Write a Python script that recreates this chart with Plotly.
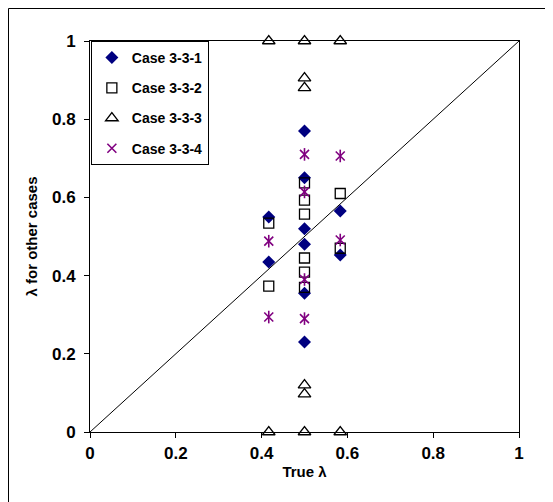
import plotly.graph_objects as go

# ---- data ----
case1_x = [0.4167, 0.4167, 0.5, 0.5, 0.5, 0.5, 0.5, 0.5, 0.5833, 0.5833]
case1_y = [0.550, 0.435, 0.770, 0.650, 0.520, 0.480, 0.355, 0.230, 0.565, 0.453]

case2_x = [0.4167, 0.4167, 0.5, 0.5, 0.5, 0.5, 0.5, 0.5, 0.5833, 0.5833]
case2_y = [0.534, 0.373, 0.637, 0.593, 0.557, 0.445, 0.409, 0.370, 0.610, 0.470]

case3_x = [0.4167, 0.4167, 0.5, 0.5, 0.5, 0.5, 0.5, 0.5, 0.5833, 0.5833]
case3_y = [1.000, 0.000, 1.000, 0.905, 0.880, 0.120, 0.097, 0.000, 1.000, 0.000]

case4_x = [0.4167, 0.4167, 0.5, 0.5, 0.5, 0.5, 0.5833, 0.5833]
case4_y = [0.488, 0.294, 0.710, 0.614, 0.390, 0.290, 0.706, 0.491]

diag_x = [0, 1]
diag_y = [0, 1]

tick_vals = [0, 0.2, 0.4, 0.6, 0.8, 1]
tick_text = ["0", "0.2", "0.4", "0.6", "0.8", "1"]

names = ["Case 3-3-1", "Case 3-3-2", "Case 3-3-3", "Case 3-3-4"]

FONT = "Arial, 'Liberation Sans', sans-serif"
NAVY = "#000080"
PURPLE = "#800080"

# plot-area geometry (figure pixels)
L, T, PW, PH = 82, 33, 429, 391
W, H = 553, 502

fig = go.Figure()

fig.add_trace(go.Scatter(x=diag_x, y=diag_y, mode="lines",
                         line=dict(color="black", width=1),
                         showlegend=False, hoverinfo="skip"))

fig.add_trace(go.Scatter(x=case1_x, y=case1_y, mode="markers", name=names[0],
                         legendgroup="g1",
                         marker=dict(symbol="diamond", size=10, color=NAVY,
                                     line=dict(width=0))))
fig.add_trace(go.Scatter(x=case2_x, y=case2_y, mode="markers", name=names[1],
                         legendgroup="g2",
                         marker=dict(symbol="square-open", size=10, color="black",
                                     line=dict(width=1.3, color="black"))))
fig.add_trace(go.Scatter(x=case3_x, y=case3_y, mode="markers", name=names[2],
                         legendgroup="g3", cliponaxis=False,
                         marker=dict(symbol="triangle-up-open", size=11, color="black",
                                     line=dict(width=1.3, color="black"))))
fig.add_trace(go.Scatter(x=case4_x, y=case4_y, mode="markers", name=names[3],
                         legendgroup="g4",
                         marker=dict(symbol="x-thin-open", size=9, color=PURPLE,
                                     line=dict(width=1.6, color=PURPLE))))
fig.add_trace(go.Scatter(x=case4_x, y=case4_y, mode="markers", name=names[3],
                         legendgroup="g4", showlegend=False,
                         marker=dict(symbol="line-ns-open", size=9, color=PURPLE,
                                     line=dict(width=1.6, color=PURPLE))))

axis_common = dict(
    range=[0, 1], tickvals=tick_vals, ticktext=tick_text,
    showgrid=False, zeroline=False, showline=True, linecolor="black", linewidth=1,
    mirror=True, ticks="outside", ticklen=5, tickcolor="black", tickwidth=1,
    tickfont=dict(family=FONT, size=17, color="black", weight="bold"),
)

fig.update_layout(
    width=W, height=H,
    margin=dict(l=L, r=W - L - PW, t=T, b=H - T - PH),
    paper_bgcolor="white", plot_bgcolor="white",
    font=dict(family=FONT, color="black"),
    xaxis=dict(**axis_common, ticklabelstandoff=1,
               title=dict(text="<b>True λ</b>", font=dict(family=FONT, size=15), standoff=4)),
    yaxis=dict(**axis_common, ticklabelstandoff=5,
               title=dict(text="<b>λ for other cases</b>", font=dict(family=FONT, size=15), standoff=10)),
    legend=dict(x=0.002, y=1, xanchor="left", yanchor="top",
                bgcolor="white", bordercolor="black", borderwidth=1,
                font=dict(family=FONT, size=14, color="black", weight="bold"),
                traceorder="grouped", tracegroupgap=9, itemwidth=30,
                entrywidth=85),
    showlegend=True,
    shapes=[dict(type="rect", xref="paper", yref="paper",
                 x0=(0.5 - L) / PW, x1=(W + 40 - L) / PW,
                 y0=-(H + 40 - T - PH) / PH, y1=1 + (T - 0.5) / PH,
                 line=dict(color="black", width=1), fillcolor="rgba(0,0,0,0)",
                 layer="below")],
)

fig.write_html("out.html")
